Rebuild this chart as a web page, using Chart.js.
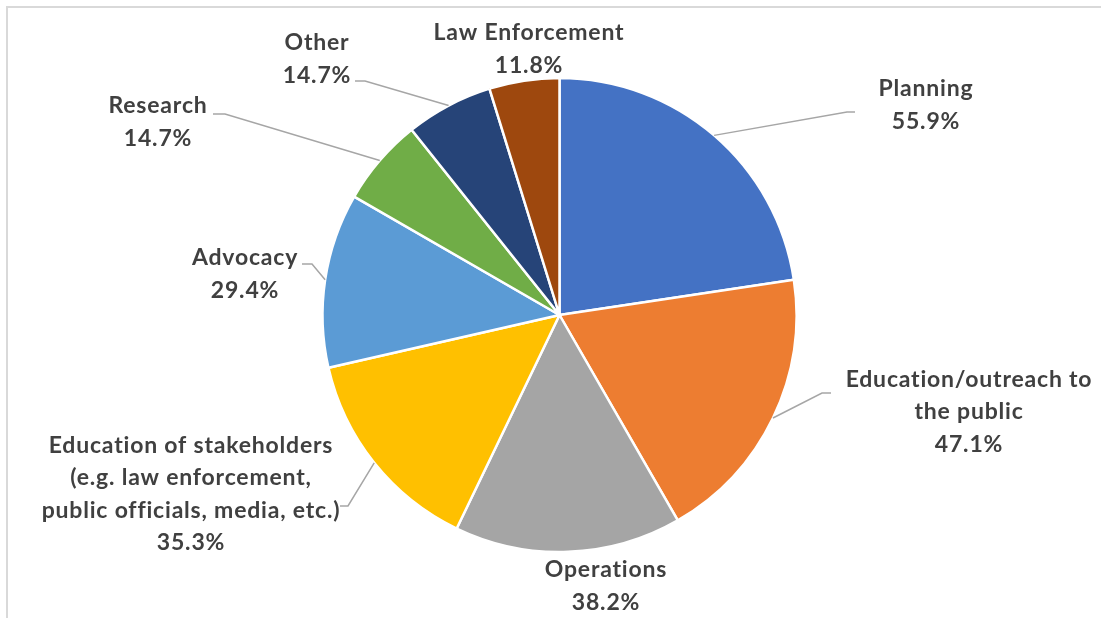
<!DOCTYPE html>
<html>
<head>
<meta charset="utf-8">
<title>Focus areas</title>
<script src="https://cdn.jsdelivr.net/npm/chart.js@4/dist/chart.umd.min.js"></script>
<style>
  html, body { margin: 0; padding: 0; background: #fff; }
  #chart { display: block; }
</style>
</head>
<body>
<canvas id="chart" width="1101" height="618"></canvas>
<script>
// categories, clockwise from 12 o'clock
const categories = [
  ['Planning'],
  ['Education/outreach to', 'the public'],
  ['Operations'],
  ['Education of stakeholders', '(e.g. law enforcement,', 'public officials, media, etc.)'],
  ['Advocacy'],
  ['Research'],
  ['Other'],
  ['Law Enforcement']
];
const percentages = [55.9, 47.1, 38.2, 35.3, 29.4, 14.7, 14.7, 11.8];
const sliceColors = ['#4472C4', '#ED7D31', '#A5A5A5', '#FFC000', '#5B9BD5', '#70AD47', '#264478', '#9E480E'];

// where each label block sits (centre of text) and its leader elbow / tail end
const labelLayout = [
  { x: 926, y: 105, elbow: [847, 112], tail: [855, 112] },
  { x: 969, y: 412, elbow: [822, 393], tail: [831, 393] },
  { x: 606, y: 586 },
  { x: 191, y: 494, elbow: [348, 506], tail: [340, 506] },
  { x: 245, y: 274, elbow: [312, 264], tail: [302, 264] },
  { x: 158, y: 122, elbow: [225, 114], tail: [213, 114] },
  { x: 317, y: 59,  elbow: [365, 81],  tail: [355, 81] },
  { x: 529, y: 49 }
];

const LINE_H = 32.5;
const TEXT_FONT = 'bold 23px Lato, "Open Sans", sans-serif';

const framePlugin = {
  id: 'frame',
  beforeDraw(chart) {
    const ctx = chart.ctx;
    ctx.save();
    ctx.strokeStyle = '#d9d9d9';
    ctx.lineWidth = 2;
    ctx.beginPath();
    ctx.moveTo(7, chart.height);
    ctx.lineTo(7, 7);
    ctx.lineTo(chart.width, 7);
    ctx.stroke();
    ctx.restore();
  }
};

const labelPlugin = {
  id: 'sliceLabels',
  afterDatasetsDraw(chart) {
    const ctx = chart.ctx;
    const meta = chart.getDatasetMeta(0);
    ctx.save();
    meta.data.forEach((arc, i) => {
      const lay = labelLayout[i];
      const p = arc.getProps(['x', 'y', 'startAngle', 'endAngle', 'outerRadius'], true);
      const mid = (p.startAngle + p.endAngle) / 2;
      if (lay.elbow) {
        ctx.strokeStyle = '#a6a6a6';
        ctx.lineWidth = 1.5;
        ctx.beginPath();
        ctx.moveTo(p.x + Math.cos(mid) * p.outerRadius, p.y + Math.sin(mid) * p.outerRadius);
        ctx.lineTo(lay.elbow[0], lay.elbow[1]);
        ctx.lineTo(lay.tail[0], lay.tail[1]);
        ctx.stroke();
      }
      const lines = categories[i].concat([percentages[i].toFixed(1) + '%']);
      ctx.fillStyle = '#404040';
      ctx.font = TEXT_FONT;
      ctx.letterSpacing = '0.8px';
      ctx.textAlign = 'center';
      ctx.textBaseline = 'middle';
      const top = lay.y - (lines.length - 1) * LINE_H / 2;
      lines.forEach((t, k) => ctx.fillText(t, lay.x, top + k * LINE_H));
    });
    ctx.restore();
  }
};

new Chart(document.getElementById('chart'), {
  type: 'pie',
  data: {
    labels: categories,
    datasets: [{
      data: percentages,
      backgroundColor: sliceColors,
      borderColor: '#ffffff',
      borderWidth: 2.5
    }]
  },
  options: {
    responsive: false,
    animation: false,
    radius: 237,
    layout: { padding: { top: 78, bottom: 66, left: 300, right: 282 } },
    plugins: {
      legend: { display: false },
      tooltip: { enabled: false }
    },
    events: []
  },
  plugins: [framePlugin, labelPlugin]
});
</script>
</body>
</html>
